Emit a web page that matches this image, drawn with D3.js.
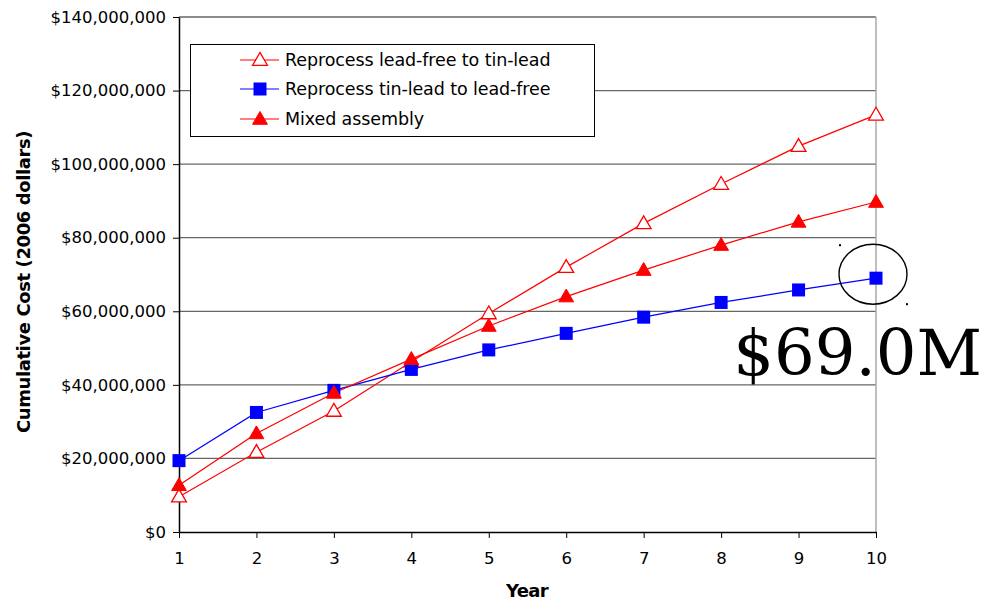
<!DOCTYPE html>
<html>
<head>
<meta charset="utf-8">
<script src="https://cdn.jsdelivr.net/npm/d3@7"></script>
<style>
  html, body { margin: 0; padding: 0; background: #fff; }
  svg { display: block; font-family: "DejaVu Sans", sans-serif; }
</style>
</head>
<body>
<svg id="chart" width="983" height="602"></svg>
<script>
// Years on the horizontal axis
const years = [1, 2, 3, 4, 5, 6, 7, 8, 9, 10];

// Cumulative cost per strategy, in dollars
const leadFreeToTinLead = [9.6e6, 21.7e6, 32.9e6, 46.3e6, 59.4e6, 72.0e6, 83.9e6, 94.6e6, 104.9e6, 113.4e6];
const tinLeadToLeadFree = [19.4e6, 32.5e6, 38.5e6, 44.2e6, 49.5e6, 54.0e6, 58.4e6, 62.4e6, 65.8e6, 69.0e6];
const mixedAssembly     = [12.7e6, 26.8e6, 37.8e6, 47.0e6, 56.0e6, 64.0e6, 71.2e6, 78.0e6, 84.3e6, 89.7e6];

const seriesNames = [
  "Reprocess lead-free to tin-lead",
  "Reprocess tin-lead to lead-free",
  "Mixed assembly"
];

const yTicks = [0, 20e6, 40e6, 60e6, 80e6, 100e6, 120e6, 140e6];

// Highlighted end value
const calloutValue = 69.0e6;
const calloutLabel = "$69.0M";

const series = [
  { name: seriesNames[0], values: leadFreeToTinLead, color: "#ff0000", marker: "triangleOpen" },
  { name: seriesNames[1], values: tinLeadToLeadFree, color: "#0000ff", marker: "square" },
  { name: seriesNames[2], values: mixedAssembly,     color: "#ff0000", marker: "triangleFilled" }
];

const svg = d3.select("#chart");
const plotLeft = 179, plotRight = 876, plotTop = 17, plotBottom = 532;

const x = d3.scaleLinear().domain([1, 10]).range([plotLeft, plotRight]);
const y = d3.scaleLinear().domain([0, 140e6]).range([plotBottom, plotTop]);

// Horizontal gridlines
svg.append("g")
  .selectAll("line")
  .data(yTicks.filter(d => d > 0))
  .join("line")
  .attr("x1", plotLeft).attr("x2", plotRight)
  .attr("y1", d => y(d)).attr("y2", d => y(d))
  .attr("stroke", "#666")
  .attr("stroke-width", 1.3);

// Right border of the plot area
svg.append("line")
  .attr("x1", plotRight).attr("x2", plotRight)
  .attr("y1", plotTop).attr("y2", plotBottom)
  .attr("stroke", "#a8a8a8")
  .attr("stroke-width", 1.5);

// Y axis
const fmt = d3.format(",");
const yAxis = svg.append("g")
  .attr("transform", `translate(${plotLeft},0)`)
  .call(d3.axisLeft(y).tickValues(yTicks).tickSize(6).tickSizeOuter(0).tickPadding(7)
    .tickFormat(d => "$" + fmt(d)));
yAxis.select(".domain").attr("stroke", "#000").attr("stroke-width", 1.5);
yAxis.selectAll(".tick line").attr("stroke", "#000");
yAxis.selectAll(".tick text")
  .attr("font-family", "DejaVu Sans, sans-serif")
  .attr("font-size", 16.5)
  .attr("fill", "#000");

// X axis
const xAxis = svg.append("g")
  .attr("transform", `translate(0,${plotBottom})`)
  .call(d3.axisBottom(x).tickValues(years).tickSize(6).tickSizeOuter(0).tickPadding(14)
    .tickFormat(d3.format("d")));
xAxis.select(".domain").attr("stroke", "#000").attr("stroke-width", 1.5);
xAxis.selectAll(".tick line").attr("stroke", "#000");
xAxis.selectAll(".tick text")
  .attr("font-family", "DejaVu Sans, sans-serif")
  .attr("font-size", 16.5)
  .attr("fill", "#000");

// Axis titles
svg.append("text")
  .attr("x", 527).attr("y", 597)
  .attr("text-anchor", "middle")
  .attr("font-size", 18).attr("font-weight", "bold")
  .attr("letter-spacing", -0.6)
  .text("Year");

svg.append("text")
  .attr("transform", "translate(30,282) rotate(-90)")
  .attr("text-anchor", "middle")
  .attr("font-size", 18).attr("font-weight", "bold")
  .attr("letter-spacing", -0.4)
  .text("Cumulative Cost (2006 dollars)");

// Marker drawing
function drawMarker(sel, type, color) {
  if (type === "square") {
    sel.append("rect")
      .attr("x", -6.5).attr("y", -6.5).attr("width", 13).attr("height", 13)
      .attr("fill", color);
  } else {
    const tri = d3.symbol().type(d3.symbolTriangle).size(95);
    sel.append("path")
      .attr("d", tri())
      .attr("transform", "translate(0,1)")
      .attr("fill", type === "triangleFilled" ? color : "#fff")
      .attr("stroke", color)
      .attr("stroke-width", type === "triangleFilled" ? 1 : 1.3);
  }
}

const line = d3.line().x((d, i) => x(years[i])).y(d => y(d));

series.forEach(s => {
  svg.append("path")
    .datum(s.values)
    .attr("d", line)
    .attr("fill", "none")
    .attr("stroke", s.color)
    .attr("stroke-width", 1.2);
});

series.forEach(s => {
  svg.append("g")
    .selectAll("g")
    .data(s.values)
    .join("g")
    .attr("transform", (d, i) => `translate(${x(years[i])},${y(d)})`)
    .each(function () { drawMarker(d3.select(this), s.marker, s.color); });
});

// Legend
const legend = svg.append("g");
legend.append("rect")
  .attr("x", 190.5).attr("y", 44.5).attr("width", 404).attr("height", 92)
  .attr("fill", "#fff").attr("stroke", "#000").attr("stroke-width", 1);
const rowY = [60, 89, 119];
series.forEach((s, i) => {
  const g = legend.append("g").attr("transform", `translate(0,${rowY[i]})`);
  g.append("line").attr("x1", 240).attr("x2", 279).attr("y1", 0).attr("y2", 0)
    .attr("stroke", s.color).attr("stroke-width", 1.2);
  const m = g.append("g").attr("transform", "translate(260,0)");
  drawMarker(m, s.marker, s.color);
  g.append("text").attr("x", 285).attr("y", 6)
    .attr("font-size", 17.5).attr("fill", "#000")
    .attr("letter-spacing", -0.1)
    .text(s.name);
});

// Callout on the final value of the tin-lead to lead-free series
const cx = x(years[years.length - 1]) - 3;
const cy = y(calloutValue) - 4;
svg.append("ellipse")
  .attr("cx", cx).attr("cy", cy).attr("rx", 34).attr("ry", 30)
  .attr("fill", "none").attr("stroke", "#000").attr("stroke-width", 1.4);
svg.append("rect").attr("x", cx - 34).attr("y", cy - 30).attr("width", 2).attr("height", 2).attr("fill", "#000");
svg.append("rect").attr("x", cx + 33).attr("y", cy + 29).attr("width", 2).attr("height", 2).attr("fill", "#000");

svg.append("text")
  .attr("x", 982).attr("y", 375)
  .attr("text-anchor", "end")
  .attr("font-family", "DejaVu Serif, serif")
  .attr("font-size", 64)
  .attr("fill", "#000")
  .text(calloutLabel);
</script>
</body>
</html>
